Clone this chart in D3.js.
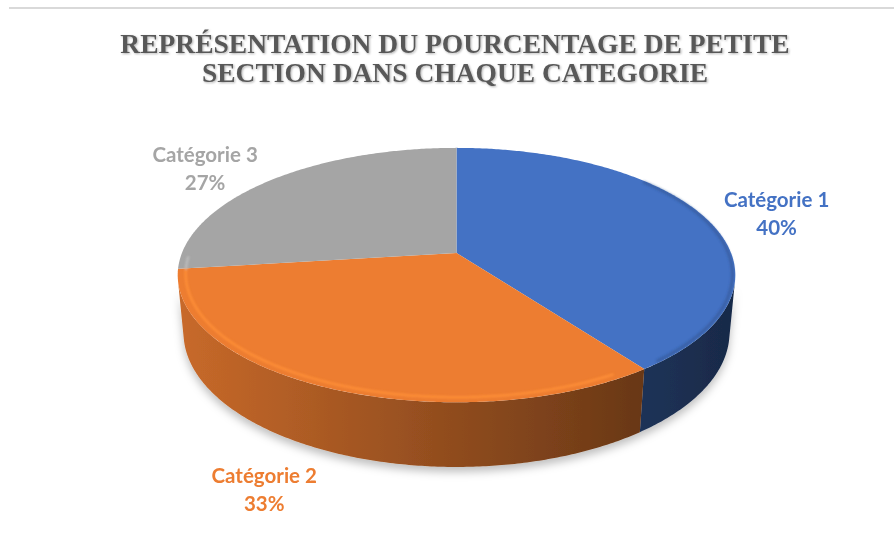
<!DOCTYPE html>
<html>
<head>
<meta charset="utf-8">
<script src="https://cdn.jsdelivr.net/npm/d3@7"></script>
<style>
  body { margin: 0; background: #fff; }
  svg { display: block; }
</style>
</head>
<body>
<div id="chart"></div>
<script>
// Data
const categories = ['Catégorie 1', 'Catégorie 2', 'Catégorie 3']
const values = [40, 33, 27]
const colors = ['#4472C4', '#ED7D31', '#A5A5A5']
const titleLines = ['REPRÉSENTATION DU POURCENTAGE DE PETITE', 'SECTION DANS CHAQUE CATEGORIE']

const width = 894
const height = 541

// 3D view (perspective)
const view = {
  cx: 456.5,
  cy: 253,
  focal: 1414,
  dist: 5.15,
  tilt: 26.7 * Math.PI / 180,
  depth: 0.236
}
const sinT = Math.sin(view.tilt)
const cosT = Math.cos(view.tilt)
const deg = Math.PI / 180

// point on the disc: angle (0 = far, clockwise), radius, height
function project(a, r, y) {
  const X = r * Math.sin(a)
  const Z = r * Math.cos(a)
  const v = y * cosT + Z * sinT
  const d = view.dist - y * sinT + Z * cosT
  return [view.cx + view.focal * X / d, view.cy - view.focal * v / d]
}

function arcPoints(a0, a1, r, y) {
  const n = Math.max(2, Math.ceil(Math.abs(a1 - a0) / 0.01))
  return d3.range(n + 1).map(i => project(a0 + (a1 - a0) * i / n, r, y))
}

const svg = d3.select('#chart')
  .append('svg')
  .attr('width', width)
  .attr('height', height)

const defs = svg.append('defs')

const shadow = defs.append('filter')
  .attr('id', 'shadow')
  .attr('x', '-20%').attr('y', '-20%')
  .attr('width', '140%').attr('height', '160%')
shadow.append('feDropShadow')
  .attr('dx', 0).attr('dy', 5)
  .attr('stdDeviation', 4)
  .attr('flood-color', '#000')
  .attr('flood-opacity', 0.25)

const titleShadow = defs.append('filter').attr('id', 'tshadow')
titleShadow.append('feDropShadow')
  .attr('dx', 1).attr('dy', 1)
  .attr('stdDeviation', 0.8)
  .attr('flood-color', '#000')
  .attr('flood-opacity', 0.3)

const soft = defs.append('filter').attr('id', 'soft')
soft.append('feGaussianBlur').attr('stdDeviation', 1.3)

// top border line
svg.append('line')
  .attr('x1', 9).attr('x2', width)
  .attr('y1', 8).attr('y2', 8)
  .attr('stroke', '#d9d9d9')
  .attr('stroke-width', 2)

// Title
svg.append('g')
  .selectAll('text')
  .data(titleLines)
  .join('text')
  .attr('x', 455)
  .attr('y', (d, i) => 53 + i * 29)
  .attr('text-anchor', 'middle')
  .attr('font-family', '"Liberation Serif", "Times New Roman", serif')
  .attr('font-weight', 'bold')
  .attr('font-size', 27.5)
  .attr('fill', '#595959')
  .attr('filter', 'url(#tshadow)')
  .text(d => d)

// Pie
const pie = d3.pie().sort(null).startAngle(0).endAngle(2 * Math.PI)
const slices = pie(values)
const line = d3.line()

const leftX = project(Math.PI * 1.45, 1, -view.depth)[0] - 10
const rightX = project(Math.PI * 0.55, 1, -view.depth)[0] + 10

slices.forEach((s, i) => {
  const base = d3.color(colors[i])
  const grad = defs.append('linearGradient')
    .attr('id', 'side' + i)
    .attr('gradientUnits', 'userSpaceOnUse')
    .attr('x1', leftX).attr('x2', rightX)
    .attr('y1', 0).attr('y2', 0)
  grad.append('stop').attr('offset', 0)
    .attr('stop-color', d3.interpolateRgb(base, '#000')(0.15))
  grad.append('stop').attr('offset', 1)
    .attr('stop-color', d3.interpolateRgb(base, '#000')(0.64))
})

// visible range of the outer wall
const lim = Math.acos(-1 / (view.dist * cosT))
const visA0 = lim
const visA1 = 2 * Math.PI - lim

const walls = svg.append('g').attr('filter', 'url(#shadow)')
slices.forEach((s, i) => {
  const a0 = Math.max(s.startAngle, visA0)
  const a1 = Math.min(s.endAngle, visA1)
  if (a1 <= a0) return
  const pts = arcPoints(a0, a1, 1, 0)
    .concat(arcPoints(a1, a0, 1, -view.depth))
  walls.append('path')
    .attr('d', line(pts) + 'Z')
    .attr('fill', `url(#side${i})`)
})

const tops = svg.append('g')
slices.forEach((s, i) => {
  const pts = [project(0, 0, 0)].concat(arcPoints(s.startAngle, s.endAngle, 1, 0))
  tops.append('path')
    .attr('d', line(pts) + 'Z')
    .attr('fill', colors[i])
})

// soft bevel on the top rim: light towards the front left, dark on the right
const rims = svg.append('g').attr('filter', 'url(#soft)')
function rim(from, to, r, color, w, op) {
  slices.forEach((s, i) => {
    const a0 = Math.max(s.startAngle, from)
    const a1 = Math.min(s.endAngle, to)
    if (a1 <= a0) return
    rims.append('path')
      .attr('d', line(arcPoints(a0, a1, r, 0)))
      .attr('fill', 'none')
      .attr('stroke', color(colors[i]))
      .attr('stroke-width', w)
      .attr('stroke-linecap', 'round')
      .attr('opacity', op)
  })
}
rim(150 * deg, 268 * deg, 0.972, c => d3.color(c).brighter(0.4), 2.5, 0.9)
rim(50 * deg, 140 * deg, 0.99, c => d3.interpolateRgb(c, '#000')(0.3), 3, 0.5)

// Labels
const labelW = 107
const labelH = 50
const labels = svg.append('g')
  .attr('font-family', 'Lato, "Open Sans", sans-serif')
  .attr('font-weight', 'bold')
  .attr('font-size', 20.5)
  .attr('text-anchor', 'middle')

slices.forEach((s, i) => {
  const mid = (s.startAngle + s.endAngle) / 2
  const front = Math.cos(mid) < 0
  const [ax, ay] = project(mid, 1.08, front ? -view.depth : 0)
  const dx = ax - view.cx
  const dy = ay - view.cy
  const len = Math.hypot(dx, dy)
  const x = ax + Math.sign(dx) * labelW / 2
  const y = ay + dy / len * labelH / 2 + 4
  const pct = d3.format('.0%')(values[i] / d3.sum(values))
  const t = labels.append('text')
    .attr('fill', colors[i])
  t.append('tspan').attr('x', x).attr('y', y - 7).text(categories[i])
  t.append('tspan').attr('x', x).attr('y', y + 21).text(pct)
})
</script>
</body>
</html>
